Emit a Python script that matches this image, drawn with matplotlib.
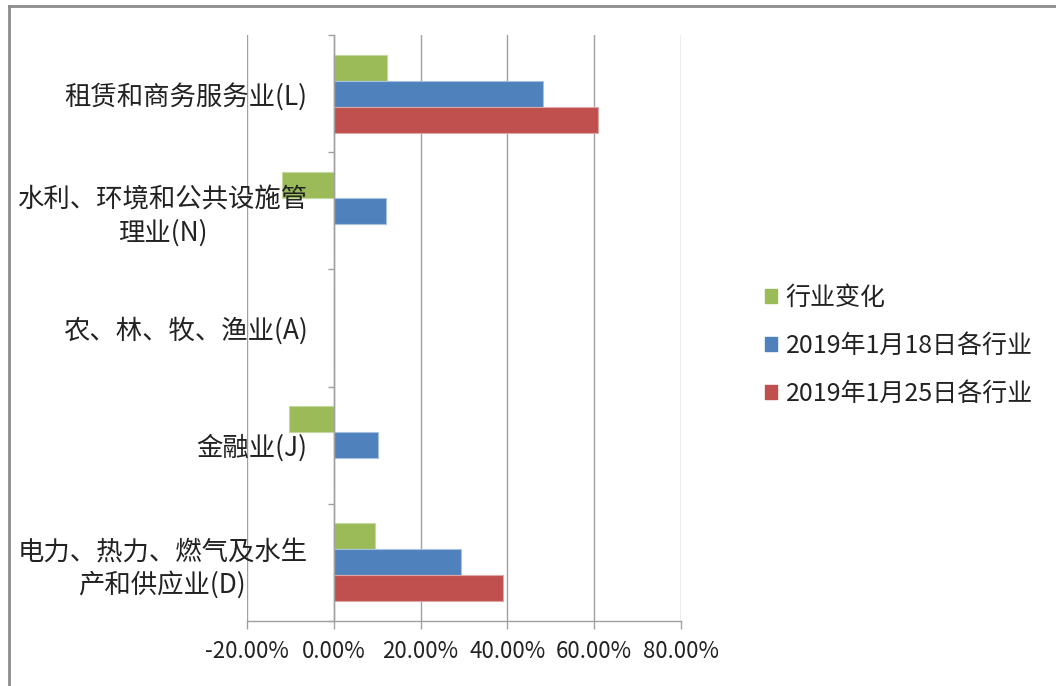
import numpy as np
import matplotlib
matplotlib.use('Agg')
import matplotlib.pyplot as plt
from matplotlib.patches import Patch
from matplotlib.lines import Line2D
from matplotlib.ticker import FixedLocator, FuncFormatter

plt.rcParams['font.family'] = ['Noto Sans CJK SC', 'DejaVu Sans']

# categories, bottom to top
cats = ['电力、热力、燃气及水生\n产和供应业(D)', '金融业(J)', '农、林、牧、渔业(A)',
        '水利、环境和公共设施管\n理业(N)', '租赁和商务服务业(L)']
change = [9.5, -10.3, 0.0, -12.0, 12.2]     # 行业变化 (%)
jan18 = [29.4, 10.2, 0.0, 12.0, 48.3]       # 2019年1月18日各行业 (%)
jan25 = [39.1, 0.0, 0.0, 0.0, 60.8]         # 2019年1月25日各行业 (%)
series_names = ['行业变化', '2019年1月18日各行业', '2019年1月25日各行业']
colors = ['#9BBB59', '#4F81BD', '#C0504D']
edges = ['#c4d8a0', '#a7c0de', '#dea6a4']
xticks = [-20, 0, 20, 40, 60, 80]

W, H = 1056, 686
fig = plt.figure(figsize=(W / 100, H / 100), dpi=100)
ax = fig.add_axes([247 / W, (H - 621) / H, (681 - 247) / W, (621 - 35) / H])

y = np.arange(len(cats))
h = 0.222
for vals, off, c, e in zip([change, jan18, jan25], [h, 0, -h], colors, edges):
    ax.barh(y + off, vals, height=h, color=c, edgecolor=e, linewidth=0.8, zorder=3)

ax.set_xlim(-20, 80)
ax.set_ylim(-0.5, len(cats) - 0.5)

gray = '#a0a0a0'
ax.xaxis.set_major_locator(FixedLocator(xticks))
ax.xaxis.set_major_formatter(FuncFormatter(lambda v, p: '%.2f%%' % v))
ax.grid(axis='x', color=gray, linewidth=1.0)
ax.tick_params(axis='x', length=6, width=1, color=gray, pad=8, labelsize=16,
               labelcolor='#222222')
# grid under the bars, category labels over them
ax.xaxis.set_zorder(0.5)
ax.yaxis.set_zorder(5)

# y axis sits at 0, ticks on category boundaries, labels at centres
ax.spines['left'].set_position(('data', 0))
for s in ['top', 'right']:
    ax.spines[s].set_visible(False)
for s in ['left', 'bottom']:
    ax.spines[s].set_color(gray)
    ax.spines[s].set_linewidth(1.0)
    ax.spines[s].set_zorder(4)
ax.yaxis.set_major_locator(FixedLocator(np.arange(-0.5, len(cats), 1.0)))
ax.yaxis.set_major_formatter(FuncFormatter(lambda v, p: ''))
ax.yaxis.set_minor_locator(FixedLocator(y))
ax.set_yticklabels(cats, minor=True, multialignment='center', linespacing=1.25)
ax.tick_params(axis='y', which='major', length=4, width=1, color=gray)
ax.tick_params(axis='y', which='minor', length=0, pad=19, labelsize=19,
               labelcolor='#222222')

handles = [Patch(facecolor=c, edgecolor=c) for c in colors]
fig.legend(handles, series_names, loc='upper left', bbox_to_anchor=(742 / W, (H - 262) / H),
           frameon=False, fontsize=18, handlelength=0.5, handleheight=0.5,
           handletextpad=0.35, labelspacing=0.88, labelcolor='#222222')

# outer chart frame (left and top edges visible)
fig.add_artist(Line2D([9 / W, 9 / W], [0, (H - 6) / H], color='#8c8c8c', linewidth=2))
fig.add_artist(Line2D([9 / W, 1], [(H - 6) / H, (H - 6) / H], color='#8c8c8c', linewidth=2))

fig.savefig('out.png', dpi=100)
